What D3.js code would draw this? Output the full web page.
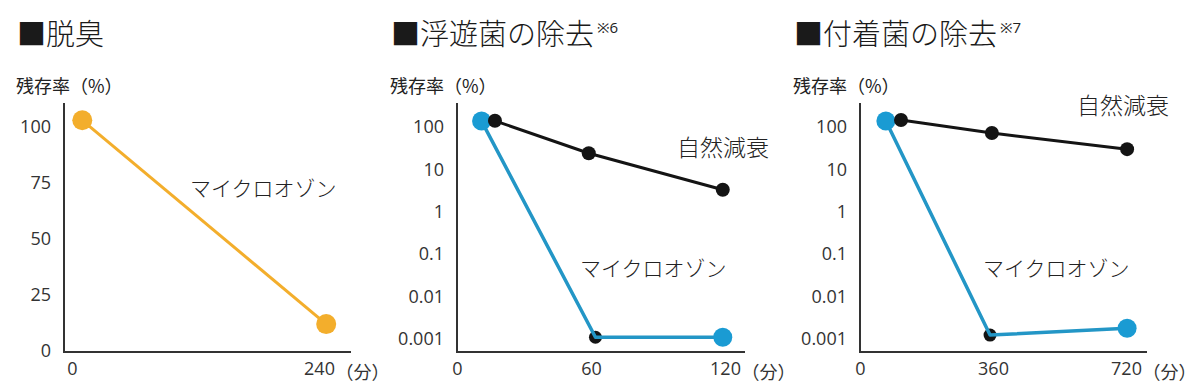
<!DOCTYPE html>
<html><head><meta charset="utf-8">
<script src="https://cdn.jsdelivr.net/npm/d3@7"></script>
<style>
html,body{margin:0;padding:0;background:#fff;}
svg{display:block;}
</style></head>
<body>
<svg id="c" width="1200" height="392"></svg>
<script>
// ---------- data ----------
const titles = ["脱臭", "浮遊菌の除去", "付着菌の除去"];
const titleNotes = ["", "※6", "※7"];
const yAxisTitle = "残存率（%）";
const xUnit = "（分）";
const ozoneLabel = "マイクロオゾン";
const naturalLabel = "自然減衰";

// panel 1: deodorization (linear %)
const deoTimes = [10, 247];
const deoValues = [103, 12];
const deoYTicks = [0, 25, 50, 75, 100];
const deoXTicks = [0, 240];

// log ticks (panels 2, 3)
const logTicks = [0.001, 0.01, 0.1, 1, 10, 100];
const logTickLabels = ["0.001", "0.01", "0.1", "1", "10", "100"];

// panel 2: airborne bacteria
const airXTicks = [0, 60, 120];
const airOzoneTimes = [11, 62, 119];
const airOzoneValues = [138, 0.0011, 0.0011];
const airNaturalTimes = [17, 59, 119];
const airNaturalValues = [140, 24, 3.3];

// panel 3: attached bacteria
const surfXTicks = [0, 360, 720];
const surfOzoneTimes = [70, 352, 723];
const surfOzoneValues = [138, 0.00124, 0.0018];
const surfNaturalTimes = [111, 357, 723];
const surfNaturalValues = [146, 72, 30];

// ---------- drawing ----------
const svg = d3.select("#c");
const JP = "'Noto Sans CJK JP', sans-serif";
const NUM = "'Open Sans', 'Noto Sans', sans-serif";
const ORANGE = "#f3ae2c", BLUE = "#1a9bd3", BLUE_LINE = "#2396c6", BLACK = "#141414", AXIS = "#333";

function zip(xs, ys){ return xs.map((x,i)=>({x, y: ys[i]})); }

function frame(g, x, y, axisX, axisRight, yTop, yBottom, ox, title, note, yTicks, yFmt, xTicks){
  // title
  const t = g.append("text").attr("x", ox).attr("y", 32)
    .attr("dominant-baseline", "central")
    .style("font-family", JP).style("font-size", "29px").style("font-weight", 300).style("fill", "#1a1a1a")
    .text("■" + title);
  if (note) {
    const w = t.node().getComputedTextLength();
    g.append("text").attr("x", ox + w + 3).attr("y", 27)
      .attr("dominant-baseline", "central")
      .style("font-family", NUM).style("font-size", "15px").style("fill", "#222")
      .text(note);
  }
  g.append("text").attr("x", ox - 1).attr("y", 85)
    .attr("dominant-baseline", "central")
    .style("font-family", JP).style("font-size", "18px").style("fill", "#222")
    .text(yAxisTitle);

  // y axis labels via d3 axis
  const ya = g.append("g").attr("transform", `translate(${axisX},0)`)
    .call(d3.axisLeft(y).tickValues(yTicks).tickFormat(yFmt).tickSize(0).tickPadding(13));
  ya.select(".domain").remove();
  ya.selectAll("text").style("font-family", NUM).style("font-size", "18px").style("fill", "#333");

  // x axis labels via d3 axis
  const xa = g.append("g").attr("transform", `translate(0,${yBottom})`)
    .call(d3.axisBottom(x).tickValues(xTicks).tickSize(0).tickPadding(10));
  xa.select(".domain").remove();
  xa.selectAll("text").style("font-family", NUM).style("font-size", "18px").style("fill", "#333");
  const lastTxt = xa.selectAll("text").nodes().slice(-1)[0];
  const lw = lastTxt.getComputedTextLength();
  g.append("text").attr("x", x(xTicks[xTicks.length-1]) + lw/2 + 1).attr("y", 371)
    .attr("dominant-baseline", "central")
    .style("font-family", JP).style("font-size", "18px").style("fill", "#333")
    .text(xUnit);

  // axis lines
  g.append("path")
    .attr("d", `M${axisX},${yTop}V${yBottom}H${axisRight}`)
    .attr("fill", "none").attr("stroke", AXIS).attr("stroke-width", 2);
}

function label(g, x, y, txt, size){
  g.append("text").attr("x", x).attr("y", y).attr("dominant-baseline", "central")
    .style("font-family", JP).style("font-size", size + "px").style("font-weight", 300).style("fill", "#222").text(txt);
}

// ----- panel 1 -----
{
  const g = svg.append("g");
  const x = d3.scaleLinear().domain([0, 240]).range([72, 319]);
  const y = d3.scaleLinear().domain([0, 100]).range([351, 127]);
  frame(g, x, y, 64, 351, 103, 352, 17, titles[0], titleNotes[0], deoYTicks, d3.format("d"), deoXTicks);
  const pts = zip(deoTimes, deoValues);
  const line = d3.line().x(d=>x(d.x)).y(d=>y(d.y));
  g.append("path").datum(pts).attr("d", line).attr("fill","none").attr("stroke", ORANGE).attr("stroke-width", 3);
  g.selectAll("circle.o").data(pts).join("circle").attr("cx", d=>x(d.x)).attr("cy", d=>y(d.y)).attr("r", 10).attr("fill", ORANGE);
  label(g, 190, 187, ozoneLabel, 21);
}

function logPanel(ox, axisX, axisRight, xDom, xRange, title, note, xTicks, oT, oV, nT, nV, natPos, ozPos){
  const g = svg.append("g");
  const x = d3.scaleLinear().domain(xDom).range(xRange);
  const y = d3.scaleLog().domain([0.001, 100]).range([339, 127]);
  frame(g, x, y, axisX, axisRight, 103, 352, ox, title, note, logTicks, (d,i)=>logTickLabels[i], xTicks);
  const line = d3.line().x(d=>x(d.x)).y(d=>y(d.y));
  const oz = zip(oT, oV), nat = zip(nT, nV);
  // small black marker under the ozone line (middle point)
  g.append("circle").attr("cx", x(oz[1].x)).attr("cy", y(oz[1].y)).attr("r", 6.5).attr("fill", BLACK);
  g.append("path").datum(oz).attr("d", line).attr("fill","none").attr("stroke", BLUE_LINE).attr("stroke-width", 3.5).attr("stroke-linejoin","round");
  g.selectAll("circle.b").data([oz[0], oz[2]]).join("circle").attr("class","b")
    .attr("cx", d=>x(d.x)).attr("cy", d=>y(d.y)).attr("r", 9.5).attr("fill", BLUE);
  g.append("path").datum(nat).attr("d", line).attr("fill","none").attr("stroke", BLACK).attr("stroke-width", 3);
  g.selectAll("circle.k").data(nat).join("circle").attr("class","k")
    .attr("cx", d=>x(d.x)).attr("cy", d=>y(d.y)).attr("r", 7).attr("fill", BLACK);
  label(g, natPos[0], natPos[1], naturalLabel, 23);
  label(g, ozPos[0], ozPos[1], ozoneLabel, 21);
}

logPanel(391, 457, 745, [0, 120], [457, 725], titles[1], titleNotes[1], airXTicks,
  airOzoneTimes, airOzoneValues, airNaturalTimes, airNaturalValues, [677, 146], [580, 267]);
logPanel(794, 860, 1147, [0, 720], [860, 1126], titles[2], titleNotes[2], surfXTicks,
  surfOzoneTimes, surfOzoneValues, surfNaturalTimes, surfNaturalValues, [1077, 104], [983, 267]);
</script>
</body></html>
